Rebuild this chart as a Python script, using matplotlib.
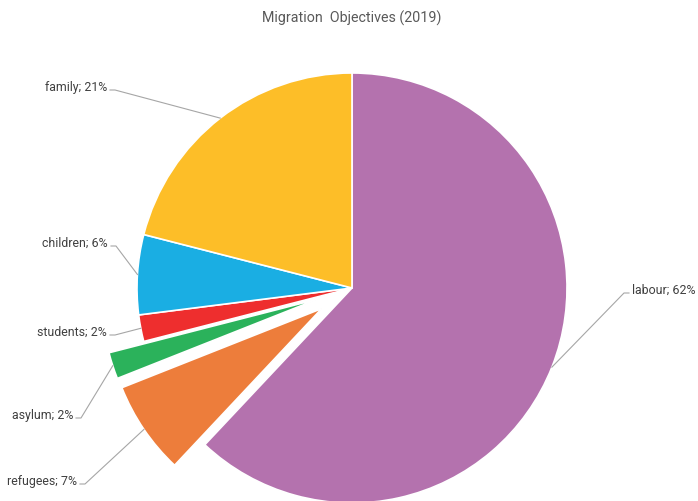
import numpy as np
import matplotlib.pyplot as plt

# Migration objectives, share of total (2019)
categories = ['labour', 'refugees', 'asylum', 'students', 'children', 'family']
shares = [62, 7, 2, 2, 6, 21]
colors = ['#B472AE', '#ED7D3B', '#2BB25B', '#EE2E2E', '#1AAEE3', '#FDBE28']
explode = [0, 0.17, 0.17, 0, 0, 0]

W, H = 698, 501
CX, CY, R = 352, 288, 215  # pie centre and radius in pixels


def px(x, y):
    # pixel position -> data coordinates (pie radius = 1)
    return (x - CX) / R, (CY - y) / R


fig = plt.figure(figsize=(W / 100, H / 100), dpi=100)
ax = fig.add_axes([0, 0, 1, 1])

wedges, _ = ax.pie(shares, colors=colors, explode=explode, startangle=90,
                   counterclock=False, radius=1,
                   wedgeprops=dict(edgecolor='white', linewidth=1.2))

# pie() rescales the axes, so fix the limits afterwards
ax.set_xlim(-CX / R, (W - CX) / R)
ax.set_ylim(-(H - CY) / R, CY / R)
ax.set_aspect('equal')
ax.axis('off')

# label text anchor (pixels) and side of the text the leader leaves from
label_pos = {
    'labour': (632, 290, 'left'),
    'refugees': (77, 481, 'right'),
    'asylum': (73, 415, 'right'),
    'students': (107, 332, 'right'),
    'children': (108, 243, 'right'),
    'family': (107, 87, 'right'),
}

txt_color = '#404040'
line_color = '#A6A6A6'
for w, name, val, ex in zip(wedges, categories, shares, explode):
    mid = np.deg2rad((w.theta1 + w.theta2) / 2)
    r = 1 + ex
    tip = (r * np.cos(mid), r * np.sin(mid))
    tx, ty, ha = label_pos[name]
    ax.text(*px(tx, ty), f'{name}; {val}%', ha=ha, va='center',
            fontsize=8.9, family='Roboto', color=txt_color)
    if ha == 'right':
        p0 = px(tx + 3, ty + 3)
        p1 = px(tx + 8, ty + 3)
    else:
        p0 = px(tx - 3, ty + 3)
        p1 = px(tx - 8, ty + 3)
    ax.plot([p0[0], p1[0], tip[0]], [p0[1], p1[1], tip[1]],
            color=line_color, linewidth=0.8)

ax.text(*px(352, 18), 'Migration  Objectives (2019)', ha='center', va='center',
        fontsize=10.3, family='Roboto', color='#595959')

fig.savefig('out.png', dpi=100)
